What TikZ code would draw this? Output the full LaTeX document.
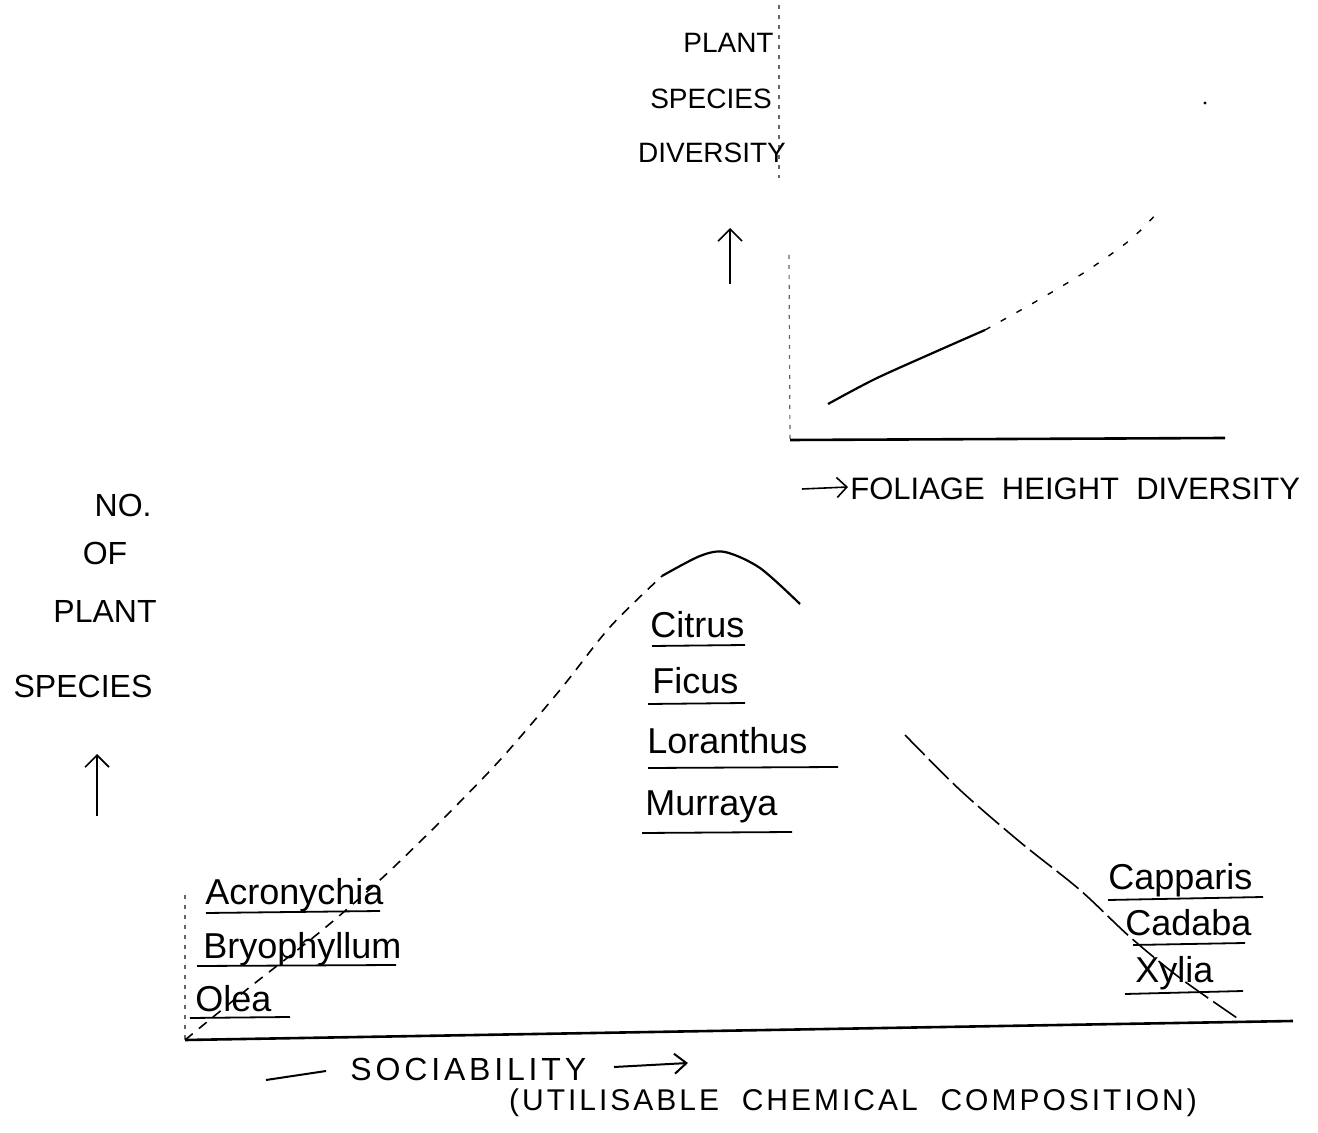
\documentclass[tikz,border=0pt]{standalone}
\usepackage{fontspec}
\setmainfont{Liberation Sans}
\usetikzlibrary{arrows.meta}
\begin{document}
\begin{tikzpicture}[x=0.5pt,y=-0.5pt,
  caplab/.style={font=\fontsize{14}{16}\selectfont, inner sep=0pt},
  bcaplab/.style={font=\fontsize{16}{18}\selectfont, inner sep=0pt},
  sp/.style={font=\fontsize{18}{20}\selectfont, anchor=base west, inner sep=0pt},
  axisline/.style={line width=1.3pt},
  faintaxis/.style={line width=0.6pt, dash pattern=on 2pt off 3pt, black!60},
  ul/.style={line width=0.9pt},
  uparrow/.style={-{Straight Barb[length=6pt,width=12pt]}, line width=0.8pt},
  curvesolid/.style={line width=1.1pt},
  curvedash/.style={line width=0.8pt, dash pattern=on 5pt off 4pt},
  curvedot/.style={line width=0.7pt, dash pattern=on 3pt off 6pt}]
\useasboundingbox (0,0) rectangle (1318,1133);

% ---------------- top chart ----------------
\coordinate (tyTop) at (779,5);
\coordinate (tyMid) at (779,178);
\coordinate (tyLow) at (789,255);
\coordinate (tOrig) at (790,440);
\coordinate (txEnd) at (1225,438);
\draw[faintaxis] (tyTop) -- (tyMid);
\draw[faintaxis] (tyLow) -- (tOrig);
\draw[axisline] (tOrig) -- (txEnd);

\node[caplab, anchor=east] (tPlant) at (774,43) {PLANT};
\node[caplab] (tSpecies) at (711,99) {SPECIES};
\node[caplab] (tDiv) at (712,153) {DIVERSITY};
\coordinate (tArrS) at (730,284);
\coordinate (tArrE) at (730,228);
\draw[uparrow] (tArrS) -- (tArrE);

\draw[curvesolid] plot[smooth] coordinates {(828,404) (875,379) (935,352) (985,330)};
\draw[curvedot] plot[smooth] coordinates {(985,330) (1035,302) (1085,272) (1130,240) (1160,210)};
\fill (1205,103) circle (1.6);

\coordinate (fArrS) at (802,489);
\coordinate (fArrE) at (848,487);
\draw[-{Straight Barb[length=5pt,width=10pt]}, line width=0.8pt] (fArrS) -- (fArrE);
\node[caplab, font=\fontsize{15.5}{18}\selectfont, anchor=west] (tX) at (850,489) {FOLIAGE\ \ HEIGHT\ \ DIVERSITY};

% ---------------- bottom chart ----------------
\coordinate (bOrig) at (185,1040);
\coordinate (byTop) at (185,895);
\coordinate (bxEnd) at (1293,1021);
\draw[faintaxis] (byTop) -- (bOrig);
\draw[axisline] (bOrig) -- (bxEnd);

\node[bcaplab, anchor=east] (bNo) at (152,505) {NO.};
\node[bcaplab] (bOf) at (105,553) {OF};
\node[bcaplab] (bPlant) at (105,611) {PLANT};
\node[bcaplab] (bSpecies) at (83,686) {SPECIES};
\coordinate (bArrS) at (97,816);
\coordinate (bArrE) at (97,754);
\draw[uparrow] (bArrS) -- (bArrE);

% bell curve
\draw[curvedash] plot[smooth] coordinates {(185,1040) (250,987) (320,932) (380,880) (440,822) (500,760) (560,690) (610,627) (662,576)};
\draw[curvesolid] plot[smooth] coordinates {(662,576) (700,556) (725,552) (760,568) (800,604)};
\draw[curvedash, dash pattern=on 14pt off 3pt] plot[smooth] coordinates {(905,735) (960,790) (1020,842) (1080,890) (1130,937) (1180,978) (1240,1020)};

% species, left group
\node[sp] (acr) at (205,904) {Acronychia};
\draw[ul] (206,913) -- (380,911);
\node[sp] (bry) at (203,958) {Bryophyllum};
\draw[ul] (197,966) -- (396,965);
\node[sp] (ole) at (195,1011) {Olea};
\draw[ul] (190,1018) -- (290,1017);

% species, middle group
\node[sp] (cit) at (650,638) {Citrus};
\draw[ul] (652,646) -- (745,645);
\node[sp] (fic) at (652,694) {Ficus};
\draw[ul] (648,704) -- (745,703);
\node[sp] (lor) at (647,754) {Loranthus};
\draw[ul] (648,768) -- (838,767);
\node[sp] (mur) at (645,815) {Murraya};
\draw[ul] (642,833) -- (792,832);

% species, right group
\node[sp] (cap) at (1108,889) {Capparis};
\draw[ul] (1108,900) -- (1263,897);
\node[sp] (cad) at (1125,935) {Cadaba};
\draw[ul] (1133,945) -- (1245,943);
\node[sp] (xyl) at (1135,982) {Xylia};
\draw[ul] (1125,994) -- (1243,991);

% x-axis labels
\coordinate (sDashS) at (266,1080);
\coordinate (sDashE) at (326,1071);
\draw[line width=1pt] (sDashS) -- (sDashE);
\node[caplab, font=\fontsize{16}{18}\selectfont\addfontfeature{LetterSpace=12}, anchor=west] (soc) at (350,1069) {SOCIABILITY};
\coordinate (sArrS) at (614,1067);
\coordinate (sArrE) at (688,1063);
\draw[-{Straight Barb[length=6pt,width=10pt]}, line width=1pt] (sArrS) -- (sArrE);
\node[caplab, font=\fontsize{15}{18}\selectfont\addfontfeature{LetterSpace=10}] (util) at (853,1103) {(UTILISABLE\ \ CHEMICAL\ \ COMPOSITION)};
\end{tikzpicture}
\end{document}
